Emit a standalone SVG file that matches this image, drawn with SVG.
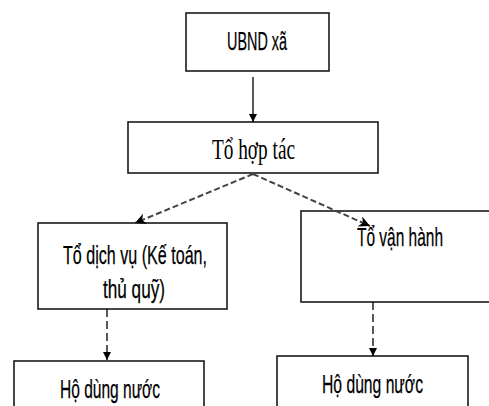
<svg xmlns="http://www.w3.org/2000/svg" width="489" height="406" viewBox="0 0 489 406">
<defs>
<style>
.box{fill:#fff;stroke:#1a1a1a;stroke-width:1.6}
.n{font-family:"Liberation Sans",Arial,sans-serif;font-size:26px;fill:#000;stroke:#000;stroke-width:0.25;text-anchor:start}
.s{font-family:"Liberation Serif","Times New Roman",serif;font-size:29px;fill:#000;text-anchor:start}
.solid{stroke:#000;stroke-width:1.3;fill:none}
.dd{stroke:#444;stroke-width:2;stroke-dasharray:6 3;fill:none}
.dv{stroke:#000;stroke-width:1.3;stroke-dasharray:8 4;fill:none}
</style>
<marker id="ah" viewBox="0 0 10 10" refX="10" refY="5" markerWidth="8" markerHeight="8" markerUnits="userSpaceOnUse" orient="auto"><path d="M0,0 L10,5 L0,10 z" fill="#000"/></marker>
<marker id="ah2" viewBox="0 0 10 10" refX="10" refY="5" markerWidth="11" markerHeight="11" markerUnits="userSpaceOnUse" orient="auto"><path d="M0,0 L10,5 L0,10 L3,5 z" fill="#000"/></marker>
</defs>
<g id="ubnd"><rect class="box" x="186" y="13" width="143" height="58"/><text class="n" x="227" y="50" textLength="60" lengthAdjust="spacingAndGlyphs">UBND xã</text></g>
<g id="tohoptac"><rect class="box" x="128" y="122" width="250" height="51"/><text class="s" x="212" y="159" textLength="83" lengthAdjust="spacingAndGlyphs">Tổ hợp tác</text></g>
<g id="todichvu"><rect class="box" x="38" y="223" width="189" height="86"/><text class="n" x="63" y="264" textLength="144" lengthAdjust="spacingAndGlyphs">Tổ dịch vụ (Kế toán,</text><text class="n" x="103" y="298" textLength="62" lengthAdjust="spacingAndGlyphs">thủ quỹ)</text></g>
<g id="tovanhanh"><rect class="box" x="301" y="211" width="200" height="91"/><text class="n" x="357" y="246" textLength="86" lengthAdjust="spacingAndGlyphs">Tổ vận hành</text></g>
<g id="hodungnuoc1"><rect class="box" x="14" y="361" width="190" height="60"/><text class="n" x="60" y="398" textLength="100" lengthAdjust="spacingAndGlyphs">Hộ dùng nước</text></g>
<g id="hodungnuoc2"><rect class="box" x="277" y="356" width="191" height="60"/><text class="n" x="322" y="393" textLength="101" lengthAdjust="spacingAndGlyphs">Hộ dùng nước</text></g>
<g id="connectors">
<line class="solid" x1="253" y1="77" x2="253" y2="122" marker-end="url(#ah)"/>
<line class="dd" x1="253" y1="174" x2="135" y2="223" marker-end="url(#ah2)"/>
<line class="dd" x1="253" y1="174" x2="370" y2="226" marker-end="url(#ah2)"/>
<line class="dv" x1="107" y1="309" x2="107" y2="360" marker-end="url(#ah)"/>
<line class="dv" x1="373" y1="302" x2="373" y2="356" marker-end="url(#ah)"/>
</g>
</svg>
